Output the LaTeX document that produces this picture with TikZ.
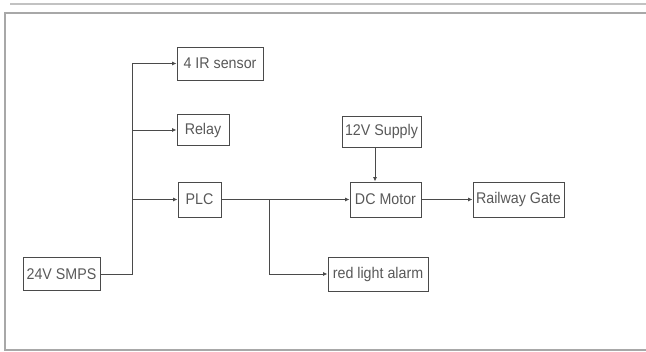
\documentclass[tikz,border=0pt]{standalone}
\usepackage{fontspec}
\setmainfont[FakeStretch=0.92]{Liberation Sans}
\usetikzlibrary{arrows.meta}
\definecolor{linegray}{HTML}{4A4A4A}
\definecolor{textgray}{HTML}{585858}
\definecolor{framegray}{HTML}{A8A8A8}
\begin{document}
\begin{tikzpicture}[x=1pt,y=-1pt,
  blk/.style={draw=linegray,line width=0.9pt,rectangle,inner sep=0pt,text=textgray,
    font=\fontsize{15.5}{17}\selectfont},
  conn/.style={draw=linegray,line width=0.9pt},
  arr/.style={conn,-{Latex[length=4.5pt,width=4pt]}}]
\useasboundingbox (0,0) rectangle (646,352);
% frame
\draw[framegray!70,line width=1.6pt] (10,4) -- (646,4);
\draw[framegray,line width=2pt] (646,13) -- (5,13) -- (5,350) -- (646,350);
% blocks
\node[blk,minimum width=86pt,minimum height=33pt] (ir) at (220,63.5) {4 IR sensor};
\node[blk,minimum width=52pt,minimum height=31pt] (relay) at (203,130) {Relay};
\node[blk,minimum width=43pt,minimum height=35pt] (plc) at (199.5,199.5) {PLC};
\node[blk,minimum width=77pt,minimum height=33pt] (smps) at (61.5,274) {24V SMPS};
\node[blk,minimum width=79pt,minimum height=31pt] (sup) at (381.5,131.5) {12V Supply};
\node[blk,minimum width=71pt,minimum height=35pt] (dc) at (385.5,199.5) {DC Motor};
\node[blk,minimum width=91pt,minimum height=35pt] (gate) at (518.5,199.5) {Railway Gate};
\node[blk,minimum width=100pt,minimum height=34pt] (alarm) at (378,274) {red light alarm};
% connectors
\coordinate (tb) at (132,274);
\coordinate (tt) at (132,63.5);
\coordinate (br) at (269,199.5);
\draw[conn] (smps.east) -- (tb) -- (tt);
\draw[arr] (tt) -- (ir.west);
\draw[arr] (tb |- relay.west) -- (relay.west);
\draw[arr] (tb |- plc.west) -- (plc.west);
\draw[arr] (plc.east) -- (dc.west);
\draw[arr] (br) |- (alarm.west);
\draw[arr] ([xshift=-6.5pt]sup.south) -- ([xshift=-10.5pt]dc.north);
\draw[arr] (dc.east) -- (gate.west);
\end{tikzpicture}
\end{document}
